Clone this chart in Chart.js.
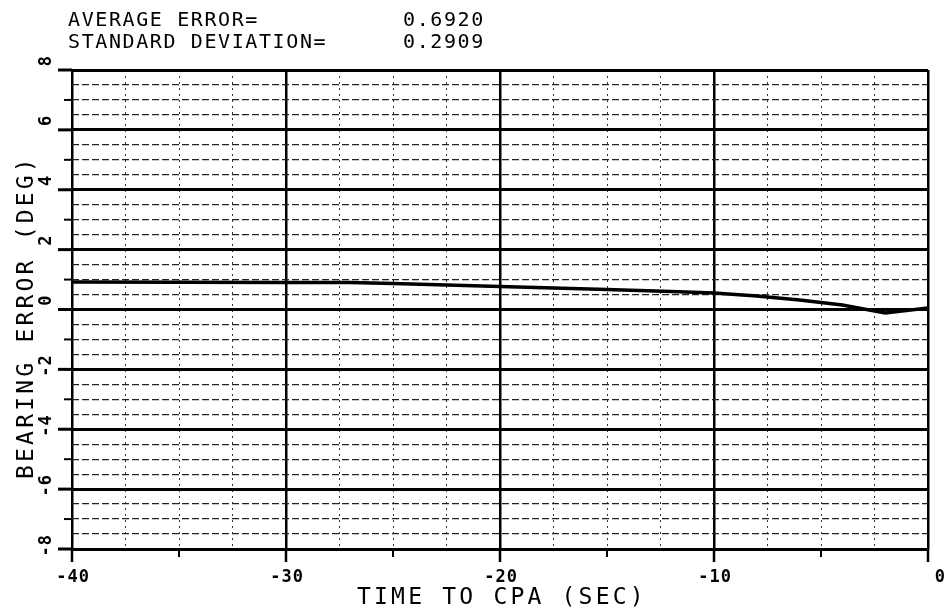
<!DOCTYPE html>
<html>
<head>
<script src="https://cdn.jsdelivr.net/npm/chart.js@4"></script>
<style>
  body { margin: 0; background: #fff; }
</style>
</head>
<body>
<canvas id="myChart" width="946" height="613"></canvas>
<script>
// values
let times = [-40, -35, -30, -27, -25, -20, -15, -12, -10, -8, -6, -4, -2, 0];
let errors = [0.92, 0.91, 0.90, 0.90, 0.87, 0.77, 0.67, 0.60, 0.55, 0.45, 0.32, 0.15, -0.12, 0.05];
let xLabels = [-40, -30, -20, -10, 0];
let yLabels = [-8, -6, -4, -2, 0, 2, 4, 6, 8];
let statNames = ['AVERAGE ERROR=', 'STANDARD DEVIATION='];
let statValues = ['0.6920', '0.2909'];
let xTitle = 'TIME TO CPA (SEC)';
let yTitle = 'BEARING ERROR (DEG)';

const mono = '"DejaVu Sans Mono", monospace';

// axis labels, tick marks and header text, placed from the scales
const decor = {
  id: 'decor',
  afterDraw(chart) {
    const c = chart.ctx;
    const xs = chart.scales.x, ys = chart.scales.y;
    const area = chart.chartArea;
    c.save();
    c.strokeStyle = '#000';
    c.fillStyle = '#000';

    // y tick marks outside the frame
    for (let v = -8; v <= 8; v++) {
      const py = ys.getPixelForValue(v);
      const major = v % 2 === 0;
      c.lineWidth = major ? 3 : 2;
      c.beginPath();
      c.moveTo(area.left - (major ? 14 : 8), py);
      c.lineTo(area.left, py);
      c.stroke();
    }
    // x tick marks below the frame
    for (let v = -40; v <= 0; v += 5) {
      const px = xs.getPixelForValue(v);
      const major = v % 10 === 0;
      c.lineWidth = major ? 2.5 : 2;
      c.beginPath();
      c.moveTo(px, area.bottom);
      c.lineTo(px, area.bottom + (major ? 13 : 8));
      c.stroke();
    }

    // x tick labels
    c.font = 'bold 17px ' + mono;
    c.letterSpacing = '1px';
    c.textBaseline = 'middle';
    c.textAlign = 'right';
    xLabels.forEach(v => {
      c.fillText(String(v), xs.getPixelForValue(v) + 18, 578);
    });

    // y tick labels, rotated
    yLabels.forEach(v => {
      const py = ys.getPixelForValue(v);
      c.save();
      c.translate(47, py - 15);
      c.rotate(-Math.PI / 2);
      c.textAlign = 'right';
      c.textBaseline = 'middle';
      c.fillText(String(v), 0, 0);
      c.restore();
    });

    // axis titles
    c.font = '23px ' + mono;
    c.letterSpacing = '3.2px';
    c.textAlign = 'left';
    c.textBaseline = 'alphabetic';
    c.fillText(xTitle, 357, 604);

    c.save();
    c.translate(33, 479);
    c.rotate(-Math.PI / 2);
    c.fillText(yTitle, 0, 0);
    c.restore();

    // header statistics
    c.font = '20px ' + mono;
    c.letterSpacing = '1.6px';
    statNames.forEach((s, i) => {
      c.fillText(s, 68, 26 + i * 22);
      c.fillText(statValues[i], 403, 26 + i * 22);
    });
    c.restore();
  }
};

let ctx = document.getElementById('myChart').getContext('2d');

let chart = new Chart(ctx, {
  type: 'line',
  data: {
    datasets: [{
      data: times.map((t, i) => ({x: t, y: errors[i]})),
      borderColor: '#000',
      borderWidth: 3.5,
      pointRadius: 0,
      tension: 0,
      fill: false
    }]
  },
  options: {
    responsive: false,
    devicePixelRatio: 1,
    animation: false,
    layout: {padding: {left: 72, right: 18, top: 70, bottom: 64}},
    plugins: {legend: {display: false}, tooltip: {enabled: false}},
    scales: {
      x: {
        type: 'linear',
        min: -40,
        max: 0,
        afterFit: s => { s.height = 0; },
        ticks: {display: false, stepSize: 2.5, maxTicksLimit: 100},
        grid: {
          drawTicks: false,
          color: g => g.tick.value % 10 === 0 ? '#000' : '#333',
          lineWidth: g => g.tick.value % 10 === 0 ? 2.5 : 1
        },
        border: {
          display: false,
          dash: g => (g.tick && g.tick.value % 10 !== 0) ? [2, 4] : []
        }
      },
      y: {
        type: 'linear',
        min: -8,
        max: 8,
        afterFit: s => { s.width = 0; },
        ticks: {display: false, stepSize: 0.5, maxTicksLimit: 100},
        grid: {
          drawTicks: false,
          color: g => g.tick.value % 2 === 0 ? '#000' : '#222',
          lineWidth: g => g.tick.value % 2 === 0 ? 3 : 1.3
        },
        border: {
          display: false,
          dash: g => (g.tick && g.tick.value % 2 !== 0) ? [7, 3] : []
        }
      }
    }
  },
  plugins: [decor]
});
</script>
</body>
</html>
